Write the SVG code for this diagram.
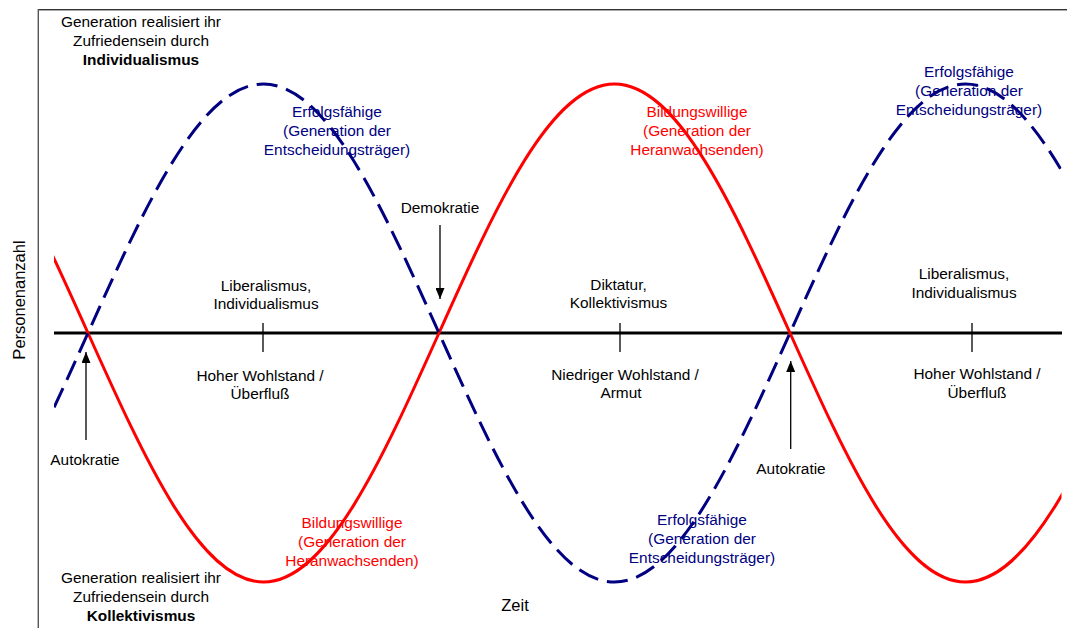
<svg xmlns="http://www.w3.org/2000/svg" width="1067" height="628" viewBox="0 0 1067 628">
<style>
text{font-family:"Liberation Sans",Arial,sans-serif;font-size:15.4px;fill:#000;text-anchor:middle}
.b{font-weight:bold}
.blue{fill:#000080}
.red{fill:#FF0000}
.ax{font-size:16.5px}
.arr{stroke:#000;stroke-width:1.3;fill:none}
</style>
<defs>
<clipPath id="plot"><rect x="54" y="0" width="1007.5" height="628"/></clipPath>
<marker id="ah" markerUnits="userSpaceOnUse" markerWidth="11" markerHeight="9" viewBox="0 0 11 9" refX="11" refY="4.5" orient="auto">
<path d="M0,0 L11,4.5 L0,9 Z" fill="#000"/>
</marker>
</defs>
<rect width="1067" height="628" fill="#fff"/>
<g id="frame">
<line x1="38.3" y1="10.5" x2="1067" y2="10.5" stroke="#aaa" stroke-width="1"/>
<line x1="38.3" y1="9.5" x2="1067" y2="9.5" stroke="#333" stroke-width="1.2"/>
<line x1="38.3" y1="9" x2="38.3" y2="628" stroke="#555" stroke-width="1.4"/>
</g>
<g id="axis">
<line x1="54" y1="333" x2="1062" y2="333" stroke="#000" stroke-width="3"/>
<line x1="263" y1="323" x2="263" y2="352" stroke="#000" stroke-width="1.3"/>
<line x1="620" y1="323" x2="620" y2="352" stroke="#000" stroke-width="1.3"/>
<line x1="972" y1="323" x2="972" y2="352" stroke="#000" stroke-width="1.3"/>
</g>
<g id="curves" clip-path="url(#plot)" fill="none" stroke-width="3">
<path id="red-curve" stroke="#FF0000" d="M-87.5,84 C-23.98,84 30.76,205.44 88,333 C145.24,460.56 200,582 263.5,582 C327.02,582 381.76,460.56 439,333 C496.24,205.44 551,84 614.5,84 C678.02,84 732.76,205.44 790,333 C847.24,460.56 902,582 965.5,582 C1029.02,582 1083.76,460.56 1141,333"/>
<path id="blue-curve" stroke="#000080" stroke-dasharray="21 9" stroke-dashoffset="6" d="M-87.5,582 C-23.98,582 30.76,460.56 88,333 C145.24,205.44 200,84 263.5,84 C327.02,84 381.76,205.44 439,333 C496.24,460.56 551,582 614.5,582 C678.02,582 732.76,460.56 790,333 C847.24,205.44 902,84 965.5,84 C1029.02,84 1083.76,205.44 1141,333"/>
</g>
<g id="connectors">
<line class="arr" x1="86" y1="440" x2="86" y2="352" marker-end="url(#ah)"/>
<line class="arr" x1="440" y1="225" x2="440" y2="299" marker-end="url(#ah)"/>
<line class="arr" x1="790.7" y1="449" x2="790.7" y2="361" marker-end="url(#ah)"/>
</g>
<g id="label-top-left">
<text x="141" y="27.3">Generation realisiert ihr</text>
<text x="141" y="46.3">Zufriedensein durch</text>
<text x="141" y="65.3" class="b">Individualismus</text>
</g>
<g id="label-bottom-left">
<text x="141" y="582.7">Generation realisiert ihr</text>
<text x="141" y="601.7">Zufriedensein durch</text>
<text x="141" y="620.7" class="b">Kollektivismus</text>
</g>
<g id="label-y-axis">
<text class="ax" transform="translate(24.5,300) rotate(-90)">Personenanzahl</text>
</g>
<g id="label-x-axis">
<text class="ax" x="515" y="611">Zeit</text>
</g>
<g id="blue-label-1">
<text class="blue" x="337" y="116.7">Erfolgsfähige</text>
<text class="blue" x="337" y="135.7">(Generation der</text>
<text class="blue" x="337" y="154.7">Entscheidungsträger)</text>
</g>
<g id="red-label-1">
<text class="red" x="697" y="117">Bildungswillige</text>
<text class="red" x="697" y="136">(Generation der</text>
<text class="red" x="697" y="155">Heranwachsenden)</text>
</g>
<g id="blue-label-2">
<text class="blue" x="969" y="77">Erfolgsfähige</text>
<text class="blue" x="969" y="96">(Generation der</text>
<text class="blue" x="969" y="115">Entscheidungsträger)</text>
</g>
<g id="red-label-2">
<text class="red" x="352" y="528">Bildungswillige</text>
<text class="red" x="352" y="547">(Generation der</text>
<text class="red" x="352" y="566">Heranwachsenden)</text>
</g>
<g id="blue-label-3">
<text class="blue" x="702" y="525">Erfolgsfähige</text>
<text class="blue" x="702" y="544">(Generation der</text>
<text class="blue" x="702" y="563">Entscheidungsträger)</text>
</g>
<g id="label-liberal-1">
<text x="266" y="290.5">Liberalismus,</text>
<text x="266" y="309">Individualismus</text>
</g>
<g id="label-wohlstand-1">
<text x="260" y="380.5">Hoher Wohlstand /</text>
<text x="260" y="399">Überfluß</text>
</g>
<g id="label-diktatur">
<text x="618.5" y="289.5">Diktatur,</text>
<text x="618.5" y="307.5">Kollektivismus</text>
</g>
<g id="label-armut">
<text x="625" y="379.5">Niedriger Wohlstand /</text>
<text x="621" y="398">Armut</text>
</g>
<g id="label-liberal-2">
<text x="964" y="279">Liberalismus,</text>
<text x="964" y="297.5">Individualismus</text>
</g>
<g id="label-wohlstand-2">
<text x="977" y="379">Hoher Wohlstand /</text>
<text x="977" y="397.5">Überfluß</text>
</g>
<g id="label-autokratie-1">
<text x="85" y="465">Autokratie</text>
</g>
<g id="label-demokratie">
<text x="440" y="213">Demokratie</text>
</g>
<g id="label-autokratie-2">
<text x="791" y="474">Autokratie</text>
</g>
</svg>
